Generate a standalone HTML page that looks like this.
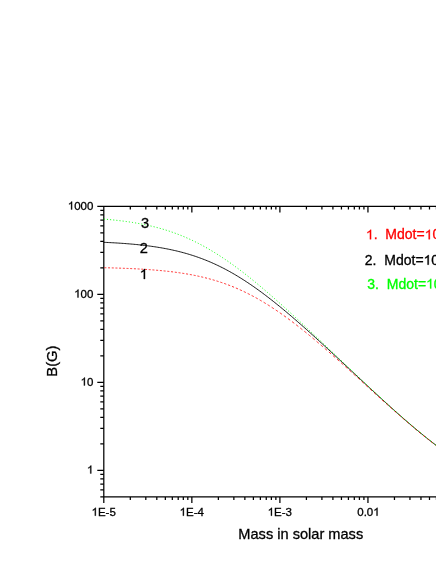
<!DOCTYPE html>
<html><head><meta charset="utf-8"><title>B(G) vs Mass</title>
<style>
html,body{margin:0;padding:0;background:#fff;}
body{width:436px;height:564px;overflow:hidden;}
svg{display:block;will-change:transform;font-family:"Liberation Sans",sans-serif;}
text{white-space:pre;stroke-width:0.3px;}
.h{fill:none;stroke:none;}
</style></head><body>
<svg width="436" height="564" viewBox="0 0 436 564">
<rect width="436" height="564" fill="#fff"/>
<g stroke="#000" stroke-width="1.25" fill="none">
<path d="M97.30,206.40 H440"/>
<path d="M100.30,496.89 H440"/>
<path d="M103.80,206.40 V503.09"/>
<path d="M130.31,496.89 v3.2 M130.31,206.40 v3.2 M145.81,496.89 v3.2 M145.81,206.40 v3.2 M156.81,496.89 v3.2 M156.81,206.40 v3.2 M165.34,496.89 v3.2 M165.34,206.40 v3.2 M172.32,496.89 v3.2 M172.32,206.40 v3.2 M178.21,496.89 v3.2 M178.21,206.40 v3.2 M183.32,496.89 v3.2 M183.32,206.40 v3.2 M187.82,496.89 v3.2 M187.82,206.40 v3.2 M191.85,496.89 v6.2 M191.85,206.40 v6.2 M218.36,496.89 v3.2 M218.36,206.40 v3.2 M233.86,496.89 v3.2 M233.86,206.40 v3.2 M244.86,496.89 v3.2 M244.86,206.40 v3.2 M253.39,496.89 v3.2 M253.39,206.40 v3.2 M260.37,496.89 v3.2 M260.37,206.40 v3.2 M266.26,496.89 v3.2 M266.26,206.40 v3.2 M271.37,496.89 v3.2 M271.37,206.40 v3.2 M275.87,496.89 v3.2 M275.87,206.40 v3.2 M279.90,496.89 v6.2 M279.90,206.40 v6.2 M306.41,496.89 v3.2 M306.41,206.40 v3.2 M321.91,496.89 v3.2 M321.91,206.40 v3.2 M332.91,496.89 v3.2 M332.91,206.40 v3.2 M341.44,496.89 v3.2 M341.44,206.40 v3.2 M348.42,496.89 v3.2 M348.42,206.40 v3.2 M354.31,496.89 v3.2 M354.31,206.40 v3.2 M359.42,496.89 v3.2 M359.42,206.40 v3.2 M363.92,496.89 v3.2 M363.92,206.40 v3.2 M367.95,496.89 v6.2 M367.95,206.40 v6.2 M394.46,496.89 v3.2 M394.46,206.40 v3.2 M409.96,496.89 v3.2 M409.96,206.40 v3.2 M420.96,496.89 v3.2 M420.96,206.40 v3.2 M429.49,496.89 v3.2 M429.49,206.40 v3.2 M436.47,496.89 v3.2 M436.47,206.40 v3.2 M103.80,489.92 h-3.5 M103.80,484.03 h-3.5 M103.80,478.93 h-3.5 M103.80,474.43 h-3.5 M103.80,470.40 h-6.5 M103.80,443.91 h-3.5 M103.80,428.41 h-3.5 M103.80,417.42 h-3.5 M103.80,408.89 h-3.5 M103.80,401.92 h-3.5 M103.80,396.03 h-3.5 M103.80,390.93 h-3.5 M103.80,386.43 h-3.5 M103.80,382.40 h-6.5 M103.80,355.91 h-3.5 M103.80,340.41 h-3.5 M103.80,329.42 h-3.5 M103.80,320.89 h-3.5 M103.80,313.92 h-3.5 M103.80,308.03 h-3.5 M103.80,302.93 h-3.5 M103.80,298.43 h-3.5 M103.80,294.40 h-6.5 M103.80,267.91 h-3.5 M103.80,252.41 h-3.5 M103.80,241.42 h-3.5 M103.80,232.89 h-3.5 M103.80,225.92 h-3.5 M103.80,220.03 h-3.5 M103.80,214.93 h-3.5 M103.80,210.43 h-3.5"/>
</g>
<path d="M103.80,242.31 L105.30,242.38 L106.80,242.45 L108.30,242.52 L109.80,242.60 L111.30,242.68 L112.80,242.76 L114.30,242.84 L115.80,242.93 L117.30,243.02 L118.80,243.12 L120.30,243.22 L121.80,243.32 L123.30,243.42 L124.80,243.53 L126.30,243.65 L127.80,243.77 L129.30,243.89 L130.80,244.02 L132.30,244.15 L133.80,244.28 L135.30,244.43 L136.80,244.57 L138.30,244.72 L139.80,244.88 L141.30,245.04 L142.80,245.21 L144.30,245.39 L145.80,245.57 L147.30,245.76 L148.80,245.95 L150.30,246.15 L151.80,246.36 L153.30,246.57 L154.80,246.79 L156.30,247.02 L157.80,247.26 L159.30,247.50 L160.80,247.76 L162.30,248.02 L163.80,248.29 L165.30,248.57 L166.80,248.85 L168.30,249.15 L169.80,249.46 L171.30,249.77 L172.80,250.10 L174.30,250.44 L175.80,250.78 L177.30,251.14 L178.80,251.51 L180.30,251.88 L181.80,252.27 L183.30,252.68 L184.80,253.09 L186.30,253.51 L187.80,253.95 L189.30,254.40 L190.80,254.86 L192.30,255.33 L193.80,255.82 L195.30,256.32 L196.80,256.83 L198.30,257.36 L199.80,257.90 L201.30,258.45 L202.80,259.02 L204.30,259.60 L205.80,260.19 L207.30,260.80 L208.80,261.43 L210.30,262.06 L211.80,262.71 L213.30,263.38 L214.80,264.06 L216.30,264.76 L217.80,265.47 L219.30,266.19 L220.80,266.93 L222.30,267.68 L223.80,268.45 L225.30,269.23 L226.80,270.03 L228.30,270.84 L229.80,271.67 L231.30,272.51 L232.80,273.36 L234.30,274.23 L235.80,275.12 L237.30,276.02 L238.80,276.93 L240.30,277.85 L241.80,278.79 L243.30,279.74 L244.80,280.71 L246.30,281.69 L247.80,282.68 L249.30,283.69 L250.80,284.70 L252.30,285.74 L253.80,286.78 L255.30,287.83 L256.80,288.90 L258.30,289.98 L259.80,291.07 L261.30,292.17 L262.80,293.28 L264.30,294.41 L265.80,295.54 L267.30,296.68 L268.80,297.84 L270.30,299.00 L271.80,300.18 L273.30,301.36 L274.80,302.55 L276.30,303.76 L277.80,304.97 L279.30,306.19 L280.80,307.41 L282.30,308.65 L283.80,309.89 L285.30,311.15 L286.80,312.40 L288.30,313.67 L289.80,314.94 L291.30,316.22 L292.80,317.51 L294.30,318.80 L295.80,320.10 L297.30,321.41 L298.80,322.72 L300.30,324.03 L301.80,325.35 L303.30,326.68 L304.80,328.01 L306.30,329.35 L307.80,330.69 L309.30,332.03 L310.80,333.38 L312.30,334.73 L313.80,336.09 L315.30,337.45 L316.80,338.81 L318.30,340.18 L319.80,341.55 L321.30,342.93 L322.80,344.30 L324.30,345.68 L325.80,347.06 L327.30,348.45 L328.80,349.83 L330.30,351.22 L331.80,352.61 L333.30,354.00 L334.80,355.39 L336.30,356.79 L337.80,358.19 L339.30,359.58 L340.80,360.98 L342.30,362.38 L343.80,363.78 L345.30,365.18 L346.80,366.58 L348.30,367.98 L349.80,369.39 L351.30,370.79 L352.80,372.19 L354.30,373.59 L355.80,374.99 L357.30,376.39 L358.80,377.79 L360.30,379.19 L361.80,380.59 L363.30,381.99 L364.80,383.39 L366.30,384.78 L367.80,386.17 L369.30,387.57 L370.80,388.96 L372.30,390.35 L373.80,391.73 L375.30,393.12 L376.80,394.50 L378.30,395.88 L379.80,397.26 L381.30,398.63 L382.80,400.00 L384.30,401.37 L385.80,402.73 L387.30,404.10 L388.80,405.45 L390.30,406.81 L391.80,408.16 L393.30,409.50 L394.80,410.85 L396.30,412.18 L397.80,413.52 L399.30,414.84 L400.80,416.17 L402.30,417.48 L403.80,418.80 L405.30,420.10 L406.80,421.40 L408.30,422.70 L409.80,423.99 L411.30,425.27 L412.80,426.54 L414.30,427.81 L415.80,429.07 L417.30,430.33 L418.80,431.57 L420.30,432.81 L421.80,434.04 L423.30,435.26 L424.80,436.48 L426.30,437.68 L427.80,438.88 L429.30,440.06 L430.80,441.24 L432.30,442.41 L433.80,443.57 L435.30,444.71 L436.80,445.85 L438.30,446.98 L439.80,448.09" fill="none" stroke="#000" stroke-width="0.9"/>
<path d="M104.40,267.71 L105.38,267.74 L106.35,267.76 M108.08,267.80 L109.06,267.83 L110.04,267.86 M111.77,267.90 L112.75,267.93 L113.72,267.96 M115.46,268.01 L116.43,268.04 L117.41,268.07 M119.14,268.13 L120.12,268.16 L121.10,268.20 M122.83,268.26 L123.81,268.30 L124.79,268.34 M126.53,268.40 L127.50,268.44 L128.48,268.49 M130.22,268.56 L131.20,268.61 L132.18,268.65 M133.92,268.73 L134.90,268.78 L135.88,268.83 M137.61,268.92 L138.60,268.98 L139.58,269.03 M141.32,269.13 L142.30,269.19 L143.28,269.25 M145.02,269.36 L146.00,269.42 L146.99,269.49 M148.73,269.61 L149.71,269.68 L150.70,269.75 M152.44,269.88 L153.43,269.96 L154.41,270.04 M156.16,270.18 L157.14,270.27 L158.13,270.35 M159.88,270.51 L160.86,270.60 L161.85,270.70 M163.60,270.87 L164.59,270.97 L165.58,271.07 M167.33,271.26 L168.32,271.37 L169.31,271.49 M171.06,271.69 L172.06,271.81 L173.05,271.93 M174.81,272.16 L175.80,272.29 L176.79,272.42 M178.55,272.67 L179.55,272.81 L180.54,272.96 M182.31,273.22 L183.30,273.38 L184.30,273.54 M186.07,273.83 L187.07,274.00 L188.06,274.17 M189.84,274.49 L190.84,274.67 L191.84,274.86 M193.61,275.20 L194.62,275.40 L195.62,275.60 M197.40,275.98 L198.40,276.19 L199.41,276.41 M201.19,276.82 L202.20,277.05 L203.21,277.29 M205.00,277.73 L206.01,277.98 L207.02,278.24 M208.82,278.71 L209.83,278.98 L210.84,279.26 M212.64,279.77 L213.66,280.06 L214.68,280.36 M216.48,280.91 L217.50,281.23 L218.52,281.55 M220.33,282.14 L221.36,282.48 L222.38,282.82 M224.20,283.45 L225.22,283.82 L226.25,284.19 M228.07,284.87 L229.11,285.26 L230.14,285.65 M231.97,286.37 L233.00,286.79 L234.04,287.22 M235.87,287.98 L236.91,288.43 L237.95,288.88 M239.79,289.70 L240.83,290.17 L241.88,290.65 M243.72,291.51 L244.77,292.01 L245.82,292.52 M247.67,293.44 L248.72,293.97 L249.77,294.50 M251.64,295.47 L252.69,296.03 L253.75,296.60 M255.62,297.62 L256.67,298.20 L257.73,298.80 M259.61,299.87 L260.67,300.49 L261.73,301.11 M263.62,302.23 L264.68,302.88 L265.75,303.53 M267.64,304.70 L268.71,305.37 L269.78,306.05 M271.68,307.28 L272.75,307.98 L273.82,308.69 M275.73,309.96 L276.80,310.69 L277.88,311.42 M279.79,312.74 L280.87,313.49 L281.95,314.25 M283.87,315.62 L284.95,316.40 L286.04,317.18 M287.96,318.59 L289.04,319.39 L290.13,320.20 M292.05,321.64 L293.13,322.46 L294.22,323.29 M296.14,324.77 L297.22,325.61 L298.31,326.46 M300.23,327.97 L301.31,328.83 L302.40,329.69 M304.32,331.24 L305.40,332.11 L306.49,332.99 M308.41,334.56 L309.49,335.45 L310.58,336.35 M312.50,337.95 L313.58,338.85 L314.67,339.76 M316.59,341.38 L317.67,342.30 L318.76,343.22 M320.68,344.86 L321.76,345.79 L322.85,346.73 M324.77,348.39 L325.85,349.33 L326.94,350.27 M328.86,351.95 L329.94,352.90 L331.03,353.85 M332.95,355.54 L334.03,356.50 L335.12,357.46 M337.04,359.17 L338.12,360.13 L339.21,361.10 M341.13,362.82 L342.21,363.79 L343.30,364.76 M345.22,366.49 L346.30,367.47 L347.39,368.44 M349.31,370.18 L350.39,371.16 L351.48,372.14 M353.40,373.88 L354.48,374.86 L355.57,375.84 M357.49,377.59 L358.57,378.57 L359.66,379.56 M361.58,381.30 L362.66,382.29 L363.75,383.28 M365.67,385.02 L366.75,386.01 L367.84,386.99 M369.76,388.74 L370.84,389.72 L371.93,390.71 M373.85,392.45 L374.93,393.43 L376.02,394.41 M377.94,396.15 L379.02,397.13 L380.11,398.11 M382.03,399.84 L383.11,400.82 L384.20,401.79 M386.12,403.52 L387.20,404.49 L388.29,405.46 M390.21,407.17 L391.29,408.13 L392.38,409.10 M394.30,410.80 L395.38,411.75 L396.47,412.71 M398.39,414.40 L399.47,415.35 L400.56,416.29 M402.48,417.96 L403.56,418.90 L404.65,419.84 M406.57,421.49 L407.65,422.42 L408.74,423.35 M410.66,424.98 L411.74,425.90 L412.83,426.81 M414.75,428.42 L415.83,429.33 L416.92,430.23 M418.84,431.82 L419.92,432.70 L421.01,433.59 M422.93,435.15 L424.01,436.02 L425.10,436.89 M427.02,438.43 L428.10,439.28 L429.19,440.13 M431.11,441.63 L432.19,442.47 L433.28,443.31 M435.20,444.77 L436.28,445.59 L437.37,446.41 M439.29,447.84 L440.37,448.64 L441.46,449.43" fill="none" stroke="#ff0000" stroke-width="0.8"/>
<path d="M103.80,219.09 L105.30,219.22 L106.80,219.35 L108.30,219.48 L109.80,219.62 L111.30,219.76 L112.80,219.91 L114.30,220.07 L115.80,220.23 L117.30,220.39 L118.80,220.57 L120.30,220.74 L121.80,220.93 L123.30,221.12 L124.80,221.32 L126.30,221.52 L127.80,221.73 L129.30,221.95 L130.80,222.17 L132.30,222.41 L133.80,222.65 L135.30,222.90 L136.80,223.15 L138.30,223.42 L139.80,223.69 L141.30,223.98 L142.80,224.27 L144.30,224.57 L145.80,224.88 L147.30,225.20 L148.80,225.54 L150.30,225.88 L151.80,226.23 L153.30,226.59 L154.80,226.96 L156.30,227.35 L157.80,227.74 L159.30,228.15 L160.80,228.57 L162.30,229.00 L163.80,229.44 L165.30,229.90 L166.80,230.37 L168.30,230.85 L169.80,231.34 L171.30,231.85 L172.80,232.37 L174.30,232.90 L175.80,233.45 L177.30,234.01 L178.80,234.58 L180.30,235.17 L181.80,235.77 L183.30,236.39 L184.80,237.02 L186.30,237.67 L187.80,238.33 L189.30,239.00 L190.80,239.69 L192.30,240.39 L193.80,241.11 L195.30,241.84 L196.80,242.59 L198.30,243.35 L199.80,244.13 L201.30,244.92 L202.80,245.72 L204.30,246.54 L205.80,247.38 L207.30,248.23 L208.80,249.09 L210.30,249.97 L211.80,250.86 L213.30,251.76 L214.80,252.68 L216.30,253.62 L217.80,254.57 L219.30,255.53 L220.80,256.50 L222.30,257.49 L223.80,258.49 L225.30,259.50 L226.80,260.53 L228.30,261.57 L229.80,262.62 L231.30,263.68 L232.80,264.76 L234.30,265.84 L235.80,266.94 L237.30,268.05 L238.80,269.17 L240.30,270.30 L241.80,271.44 L243.30,272.59 L244.80,273.76 L246.30,274.93 L247.80,276.11 L249.30,277.30 L250.80,278.50 L252.30,279.71 L253.80,280.93 L255.30,282.16 L256.80,283.40 L258.30,284.64 L259.80,285.89 L261.30,287.15 L262.80,288.42 L264.30,289.69 L265.80,290.97 L267.30,292.26 L268.80,293.55 L270.30,294.86 L271.80,296.16 L273.30,297.48 L274.80,298.80 L276.30,300.12 L277.80,301.45 L279.30,302.79 L280.80,304.13 L282.30,305.47 L283.80,306.82 L285.30,308.18 L286.80,309.54 L288.30,310.90 L289.80,312.27 L291.30,313.64 L292.80,315.02 L294.30,316.39 L295.80,317.78 L297.30,319.16 L298.80,320.55 L300.30,321.94 L301.80,323.34 L303.30,324.74 L304.80,326.14 L306.30,327.54 L307.80,328.94 L309.30,330.35 L310.80,331.76 L312.30,333.17 L313.80,334.58 L315.30,336.00 L316.80,337.42 L318.30,338.83 L319.80,340.25 L321.30,341.67 L322.80,343.10 L324.30,344.52 L325.80,345.94 L327.30,347.37 L328.80,348.79 L330.30,350.22 L331.80,351.65 L333.30,353.07 L334.80,354.50 L336.30,355.93 L337.80,357.36 L339.30,358.79 L340.80,360.21 L342.30,361.64 L343.80,363.07 L345.30,364.50 L346.80,365.92 L348.30,367.35 L349.80,368.77 L351.30,370.20 L352.80,371.62 L354.30,373.05 L355.80,374.47 L357.30,375.89 L358.80,377.31 L360.30,378.73 L361.80,380.14 L363.30,381.56 L364.80,382.97 L366.30,384.38 L367.80,385.79 L369.30,387.20 L370.80,388.60 L372.30,390.00 L373.80,391.40 L375.30,392.80 L376.80,394.19 L378.30,395.58 L379.80,396.97 L381.30,398.36 L382.80,399.74 L384.30,401.12 L385.80,402.49 L387.30,403.86 L388.80,405.23 L390.30,406.59 L391.80,407.95 L393.30,409.31 L394.80,410.65 L396.30,412.00 L397.80,413.34 L399.30,414.67 L400.80,416.00 L402.30,417.33 L403.80,418.64 L405.30,419.96 L406.80,421.26 L408.30,422.56 L409.80,423.86 L411.30,425.14 L412.80,426.42 L414.30,427.70 L415.80,428.96 L417.30,430.22 L418.80,431.47 L420.30,432.71 L421.80,433.94 L423.30,435.17 L424.80,436.39 L426.30,437.60 L427.80,438.79 L429.30,439.98 L430.80,441.16 L432.30,442.34 L433.80,443.50 L435.30,444.65 L436.80,445.79 L438.30,446.91 L439.80,448.03" fill="none" stroke="#00ff00" stroke-width="0.9" stroke-dasharray="1.1 2.05"/>
<text x="67.82" y="209.5" font-size="11.5" fill="#000" stroke="#000"><tspan class="h">1</tspan>000</text>
<path d="M763 0H583V1147Q518 1085 412.5 1023T223 930V1104Q374 1175 487 1276T647 1472H763Z" transform="translate(67.82,209.5) scale(0.00562,-0.00537)" fill="#000" stroke="#000" stroke-width="53.4"/>
<text x="74.21" y="297.5" font-size="11.5" fill="#000" stroke="#000"><tspan class="h">1</tspan>00</text>
<path d="M763 0H583V1147Q518 1085 412.5 1023T223 930V1104Q374 1175 487 1276T647 1472H763Z" transform="translate(74.21,297.5) scale(0.00562,-0.00537)" fill="#000" stroke="#000" stroke-width="53.4"/>
<text x="80.61" y="385.5" font-size="11.5" fill="#000" stroke="#000"><tspan class="h">1</tspan>0</text>
<path d="M763 0H583V1147Q518 1085 412.5 1023T223 930V1104Q374 1175 487 1276T647 1472H763Z" transform="translate(80.61,385.5) scale(0.00562,-0.00537)" fill="#000" stroke="#000" stroke-width="53.4"/>
<text x="87.00" y="473.5" font-size="11.5" fill="#000" stroke="#000"><tspan class="h">1</tspan></text>
<path d="M763 0H583V1147Q518 1085 412.5 1023T223 930V1104Q374 1175 487 1276T647 1472H763Z" transform="translate(87.00,473.5) scale(0.00562,-0.00537)" fill="#000" stroke="#000" stroke-width="53.4"/>
<text x="91.55" y="515.7" font-size="11.5" fill="#000" stroke="#000"><tspan class="h">1</tspan>E-5</text>
<path d="M763 0H583V1147Q518 1085 412.5 1023T223 930V1104Q374 1175 487 1276T647 1472H763Z" transform="translate(91.55,515.7) scale(0.00562,-0.00537)" fill="#000" stroke="#000" stroke-width="53.4"/>
<text x="179.60" y="515.7" font-size="11.5" fill="#000" stroke="#000"><tspan class="h">1</tspan>E-4</text>
<path d="M763 0H583V1147Q518 1085 412.5 1023T223 930V1104Q374 1175 487 1276T647 1472H763Z" transform="translate(179.60,515.7) scale(0.00562,-0.00537)" fill="#000" stroke="#000" stroke-width="53.4"/>
<text x="267.65" y="515.7" font-size="11.5" fill="#000" stroke="#000"><tspan class="h">1</tspan>E-3</text>
<path d="M763 0H583V1147Q518 1085 412.5 1023T223 930V1104Q374 1175 487 1276T647 1472H763Z" transform="translate(267.65,515.7) scale(0.00562,-0.00537)" fill="#000" stroke="#000" stroke-width="53.4"/>
<text x="357.26" y="515.7" font-size="11.5" fill="#000" stroke="#000">0.0<tspan class="h">1</tspan></text>
<path d="M763 0H583V1147Q518 1085 412.5 1023T223 930V1104Q374 1175 487 1276T647 1472H763Z" transform="translate(373.25,515.7) scale(0.00562,-0.00537)" fill="#000" stroke="#000" stroke-width="53.4"/>
<text x="141.00" y="227.9" font-size="14.6" fill="#000" stroke="#000">3</text>
<text x="139.80" y="252.7" font-size="14.6" fill="#000" stroke="#000">2</text>
<text x="139.60" y="279.0" font-size="14.6" fill="#000" stroke="#000"><tspan class="h">1</tspan></text>
<path d="M763 0H583V1147Q518 1085 412.5 1023T223 930V1104Q374 1175 487 1276T647 1472H763Z" transform="translate(139.60,279.0) scale(0.00713,-0.00682)" fill="#000" stroke="#000" stroke-width="42.1"/>
<text x="365.90" y="239.3" font-size="14.0" fill="#ff0000" stroke="#ff0000"><tspan class="h">1</tspan>.  Mdot=<tspan class="h">1</tspan>0</text>
<path d="M763 0H583V1147Q518 1085 412.5 1023T223 930V1104Q374 1175 487 1276T647 1472H763Z" transform="translate(365.90,239.3) scale(0.00684,-0.00654)" fill="#ff0000" stroke="#ff0000" stroke-width="43.9"/>
<path d="M763 0H583V1147Q518 1085 412.5 1023T223 930V1104Q374 1175 487 1276T647 1472H763Z" transform="translate(424.65,239.3) scale(0.00684,-0.00654)" fill="#ff0000" stroke="#ff0000" stroke-width="43.9"/>
<text x="364.80" y="264.7" font-size="14.0" fill="#000" stroke="#000">2.  Mdot=<tspan class="h">1</tspan>0</text>
<path d="M763 0H583V1147Q518 1085 412.5 1023T223 930V1104Q374 1175 487 1276T647 1472H763Z" transform="translate(423.55,264.7) scale(0.00684,-0.00654)" fill="#000" stroke="#000" stroke-width="43.9"/>
<text x="367.30" y="288.5" font-size="14.0" fill="#00ff00" stroke="#00ff00">3.  Mdot=<tspan class="h">1</tspan>0</text>
<path d="M763 0H583V1147Q518 1085 412.5 1023T223 930V1104Q374 1175 487 1276T647 1472H763Z" transform="translate(426.05,288.5) scale(0.00684,-0.00654)" fill="#00ff00" stroke="#00ff00" stroke-width="43.9"/>
<text x="238.33" y="539.3" font-size="14.6" fill="#000" stroke="#000">Mass in solar mass</text>
<text transform="translate(57.2,376.7) rotate(-90)" font-size="14.8" fill="#000" stroke="#000">B(G)</text>
</svg>
</body></html>
